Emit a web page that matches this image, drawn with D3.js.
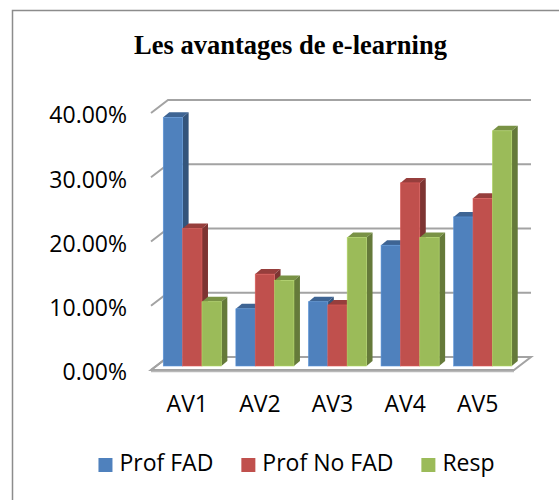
<!DOCTYPE html>
<html>
<head>
<meta charset="utf-8">
<script src="https://cdn.jsdelivr.net/npm/d3@7"></script>
<style>
  body { margin: 0; background: #fff; }
  svg text { font-family: "Open Sans", sans-serif; fill: #000; }
</style>
</head>
<body>
<svg id="chart" width="559" height="500"></svg>
<script>
var categories = ['AV1', 'AV2', 'AV3', 'AV4', 'AV5'];
var seriesNames = ['Prof FAD', 'Prof No FAD', 'Resp'];
var profFad = [0.387, 0.089, 0.100, 0.188, 0.232];
var profNoFad = [0.214, 0.143, 0.095, 0.285, 0.261];
var resp = [0.100, 0.133, 0.200, 0.200, 0.366];
var yTicks = [0, 0.1, 0.2, 0.3, 0.4];
var colors = ['#4F81BD', '#C0504D', '#9BBB59'];

(function() {
  var svg = d3.select('#chart');
  var values = [profFad, profNoFad, resp];

  // 3d geometry: front plane, wall depth, bar plane
  var depth = { dx: 17, dy: -13 };
  var barOff = { dx: 5, dy: -4 };
  var barDepth = { dx: 6, dy: -5 };

  var x = d3.scaleBand()
    .domain(categories)
    .range([151, 514])
    .paddingInner(0.2)
    .paddingOuter(0.1);

  var xs = d3.scaleBand()
    .domain(seriesNames)
    .range([0, x.bandwidth()]);

  var y = d3.scaleLinear()
    .domain([0, 0.4])
    .range([370, 113]);

  // outer frame
  svg.append('rect')
    .attr('x', 12.5).attr('y', 10.5)
    .attr('width', 600).attr('height', 600)
    .attr('fill', 'none')
    .attr('stroke', '#8c8c8c')
    .attr('stroke-width', 1.5);

  svg.append('text')
    .attr('x', 290.5).attr('y', 54)
    .attr('text-anchor', 'middle')
    .style('font-family', '"Liberation Serif", "Times New Roman", serif')
    .style('font-weight', 'bold')
    .style('font-size', '26.5px')
    .text('Les avantages de e-learning');

  var x0 = x.range()[0], x1 = x.range()[1];

  // floor
  svg.append('path')
    .attr('d', 'M' + x0 + ',' + y(0) +
      ' L' + x1 + ',' + y(0) +
      ' L' + (x1 + depth.dx) + ',' + (y(0) + depth.dy) +
      ' L' + (x0 + depth.dx) + ',' + (y(0) + depth.dy) + ' Z')
    .attr('fill', '#fff')
    .attr('stroke', '#a3a3a3')
    .attr('stroke-width', 2);
  svg.append('line')
    .attr('x1', x0).attr('x2', x1)
    .attr('y1', y(0) + 1.5).attr('y2', y(0) + 1.5)
    .attr('stroke', '#b8b8b8').attr('stroke-width', 1.5);

  // grid lines on side and back walls
  svg.append('g').selectAll('path')
    .data(yTicks)
    .enter().append('path')
      .attr('d', function(t) {
        return 'M' + x0 + ',' + y(t) +
          ' L' + (x0 + depth.dx) + ',' + (y(t) + depth.dy) +
          ' L' + (x1 + depth.dx) + ',' + (y(t) + depth.dy);
      })
      .attr('fill', 'none')
      .attr('stroke', '#a3a3a3')
      .attr('stroke-width', 2);

  // bars, drawn left to right so the next front face hides the side face
  var bars = [];
  categories.forEach(function(c, i) {
    seriesNames.forEach(function(s, j) {
      bars.push({ cat: c, name: s, value: values[j][i], color: colors[j] });
    });
  });

  var barG = svg.append('g')
    .attr('transform', 'translate(' + barOff.dx + ',' + barOff.dy + ')');

  var bar = barG.selectAll('g')
    .data(bars)
    .enter().append('g');

  bar.append('path') // top face
    .attr('d', function(d) {
      var l = x(d.cat) + xs(d.name), r = l + xs.bandwidth(), t = y(d.value);
      return 'M' + l + ',' + t + ' L' + (l + barDepth.dx) + ',' + (t + barDepth.dy) +
        ' L' + (r + barDepth.dx) + ',' + (t + barDepth.dy) + ' L' + r + ',' + t + ' Z';
    })
    .attr('fill', function(d) { return d3.color(d.color).darker(0.7); });

  bar.append('path') // side face
    .attr('d', function(d) {
      var r = x(d.cat) + xs(d.name) + xs.bandwidth(), t = y(d.value), b = y(0);
      return 'M' + r + ',' + t + ' L' + (r + barDepth.dx) + ',' + (t + barDepth.dy) +
        ' L' + (r + barDepth.dx) + ',' + (b + barDepth.dy) + ' L' + r + ',' + b + ' Z';
    })
    .attr('fill', function(d) { return d3.color(d.color).darker(1.2); });

  bar.append('rect') // front face
    .attr('x', function(d) { return x(d.cat) + xs(d.name); })
    .attr('y', function(d) { return y(d.value); })
    .attr('width', xs.bandwidth())
    .attr('height', function(d) { return y(0) - y(d.value); })
    .attr('fill', function(d) { return d.color; })
    .attr('stroke', function(d) { return d3.color(d.color).brighter(0.4); })
    .attr('stroke-width', 0.6);

  // value axis labels
  var yAxis = svg.append('g')
    .attr('transform', 'translate(127,2.5)')
    .call(d3.axisLeft(y).tickValues(yTicks).tickFormat(d3.format('.2%')).tickSize(0).tickPadding(0));
  yAxis.select('.domain').remove();
  yAxis.selectAll('text')
    .style('font-family', '"Open Sans", sans-serif')
    .style('font-size', '23px');

  // category labels
  var xAxis = svg.append('g')
    .attr('transform', 'translate(0,412)')
    .call(d3.axisBottom(x).tickSize(0));
  xAxis.select('.domain').remove();
  xAxis.selectAll('text')
    .attr('y', 0).attr('dy', 0)
    .style('font-family', '"Open Sans", sans-serif')
    .style('font-size', '23px');

  // legend
  var legend = svg.append('g');
  var item = legend.selectAll('g')
    .data(seriesNames)
    .enter().append('g');
  item.append('rect')
    .attr('y', 458).attr('width', 14).attr('height', 14)
    .attr('fill', function(d, i) { return colors[i]; });
  item.append('text')
    .attr('x', 21).attr('y', 471)
    .style('font-size', '23px')
    .text(function(d) { return d; });

  var pos = 0;
  item.each(function() {
    var w = d3.select(this).select('text').node().getComputedTextLength();
    d3.select(this).attr('transform', 'translate(' + pos + ',0)');
    pos += 21 + w + 28;
  });
  var total = pos - 28;
  legend.attr('transform', 'translate(' + (296.5 - total / 2) + ',0)');
})();
</script>
</body>
</html>
